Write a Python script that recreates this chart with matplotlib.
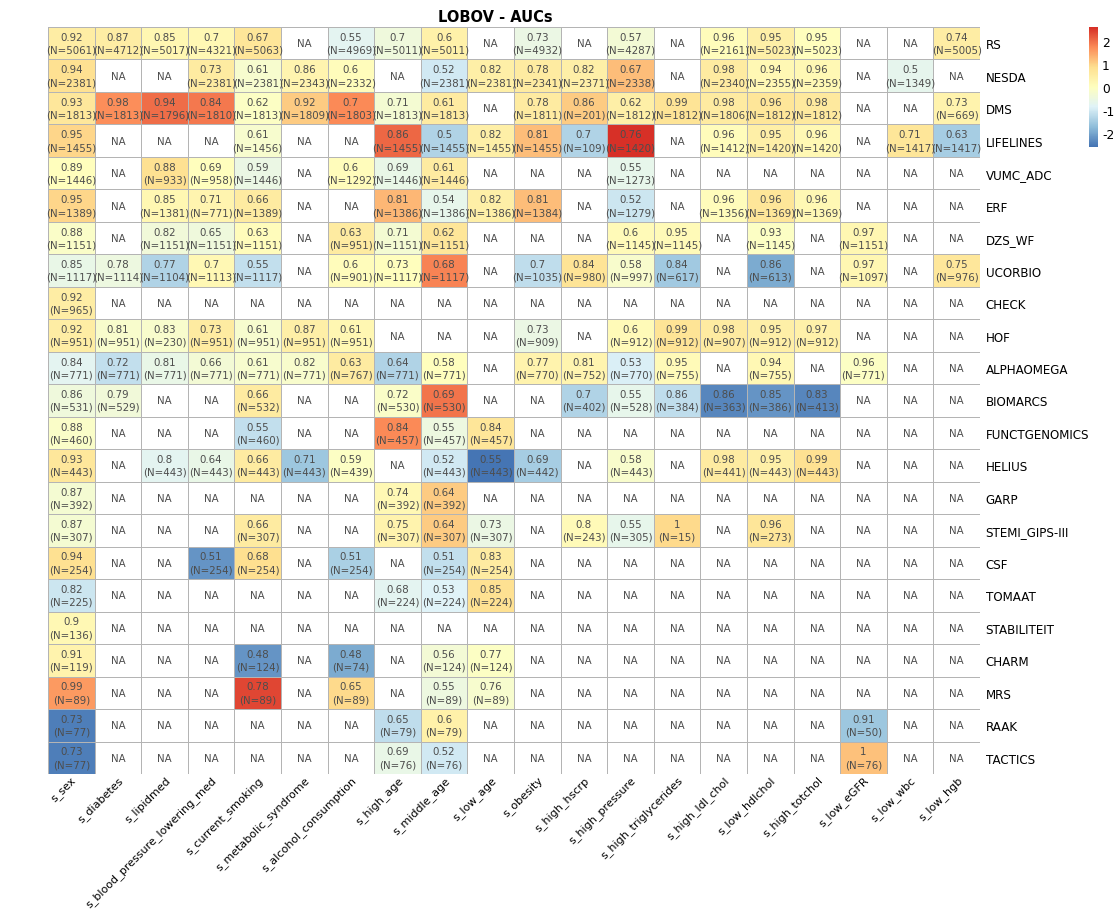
import numpy as np
import matplotlib
matplotlib.use('Agg')
import matplotlib.pyplot as plt
from matplotlib.colors import LinearSegmentedColormap, ListedColormap, Normalize

plt.rcParams['axes.unicode_minus'] = False

N = None

cohorts = ['RS', 'NESDA', 'DMS', 'LIFELINES', 'VUMC_ADC', 'ERF', 'DZS_WF', 'UCORBIO',
           'CHECK', 'HOF', 'ALPHAOMEGA', 'BIOMARCS', 'FUNCTGENOMICS', 'HELIUS', 'GARP',
           'STEMI_GIPS-III', 'CSF', 'TOMAAT', 'STABILITEIT', 'CHARM', 'MRS', 'RAAK', 'TACTICS']

variables = ['s_sex', 's_diabetes', 's_lipidmed', 's_blood_pressure_lowering_med',
             's_current_smoking', 's_metabolic_syndrome', 's_alcohol_consumption',
             's_high_age', 's_middle_age', 's_low_age', 's_obesity', 's_high_hscrp',
             's_high_pressure', 's_high_triglycerides', 's_high_ldl_chol', 's_low_hdlchol',
             's_high_totchol', 's_low_eGFR', 's_low_wbc', 's_low_hgb']

auc = [
    [0.92, 0.87, 0.85, 0.70, 0.67, N, 0.55, 0.70, 0.60, N, 0.73, N, 0.57, N, 0.96, 0.95, 0.95, N, N, 0.74],
    [0.94, N, N, 0.73, 0.61, 0.86, 0.60, N, 0.52, 0.82, 0.78, 0.82, 0.67, N, 0.98, 0.94, 0.96, N, 0.50, N],
    [0.93, 0.98, 0.94, 0.84, 0.62, 0.92, 0.70, 0.71, 0.61, N, 0.78, 0.86, 0.62, 0.99, 0.98, 0.96, 0.98, N, N, 0.73],
    [0.95, N, N, N, 0.61, N, N, 0.86, 0.50, 0.82, 0.81, 0.70, 0.76, N, 0.96, 0.95, 0.96, N, 0.71, 0.63],
    [0.89, N, 0.88, 0.69, 0.59, N, 0.60, 0.69, 0.61, N, N, N, 0.55, N, N, N, N, N, N, N],
    [0.95, N, 0.85, 0.71, 0.66, N, N, 0.81, 0.54, 0.82, 0.81, N, 0.52, N, 0.96, 0.96, 0.96, N, N, N],
    [0.88, N, 0.82, 0.65, 0.63, N, 0.63, 0.71, 0.62, N, N, N, 0.60, 0.95, N, 0.93, N, 0.97, N, N],
    [0.85, 0.78, 0.77, 0.70, 0.55, N, 0.60, 0.73, 0.68, N, 0.70, 0.84, 0.58, 0.84, N, 0.86, N, 0.97, N, 0.75],
    [0.92, N, N, N, N, N, N, N, N, N, N, N, N, N, N, N, N, N, N, N],
    [0.92, 0.81, 0.83, 0.73, 0.61, 0.87, 0.61, N, N, N, 0.73, N, 0.60, 0.99, 0.98, 0.95, 0.97, N, N, N],
    [0.84, 0.72, 0.81, 0.66, 0.61, 0.82, 0.63, 0.64, 0.58, N, 0.77, 0.81, 0.53, 0.95, N, 0.94, N, 0.96, N, N],
    [0.86, 0.79, N, N, 0.66, N, N, 0.72, 0.69, N, N, 0.70, 0.55, 0.86, 0.86, 0.85, 0.83, N, N, N],
    [0.88, N, N, N, 0.55, N, N, 0.84, 0.55, 0.84, N, N, N, N, N, N, N, N, N, N],
    [0.93, N, 0.80, 0.64, 0.66, 0.71, 0.59, N, 0.52, 0.55, 0.69, N, 0.58, N, 0.98, 0.95, 0.99, N, N, N],
    [0.87, N, N, N, N, N, N, 0.74, 0.64, N, N, N, N, N, N, N, N, N, N, N],
    [0.87, N, N, N, 0.66, N, N, 0.75, 0.64, 0.73, N, 0.80, 0.55, 1.00, N, 0.96, N, N, N, N],
    [0.94, N, N, 0.51, 0.68, N, 0.51, N, 0.51, 0.83, N, N, N, N, N, N, N, N, N, N],
    [0.82, N, N, N, N, N, N, 0.68, 0.53, 0.85, N, N, N, N, N, N, N, N, N, N],
    [0.90, N, N, N, N, N, N, N, N, N, N, N, N, N, N, N, N, N, N, N],
    [0.91, N, N, N, 0.48, N, 0.48, N, 0.56, 0.77, N, N, N, N, N, N, N, N, N, N],
    [0.99, N, N, N, 0.78, N, 0.65, N, 0.55, 0.76, N, N, N, N, N, N, N, N, N, N],
    [0.73, N, N, N, N, N, N, 0.65, 0.60, N, N, N, N, N, N, N, N, 0.91, N, N],
    [0.73, N, N, N, N, N, N, 0.69, 0.52, N, N, N, N, N, N, N, N, 1.00, N, N],
]

n_obs = [
    [5061, 4712, 5017, 4321, 5063, N, 4969, 5011, 5011, N, 4932, N, 4287, N, 2161, 5023, 5023, N, N, 5005],
    [2381, N, N, 2381, 2381, 2343, 2332, N, 2381, 2381, 2341, 2371, 2338, N, 2340, 2355, 2359, N, 1349, N],
    [1813, 1813, 1796, 1810, 1813, 1809, 1803, 1813, 1813, N, 1811, 201, 1812, 1812, 1806, 1812, 1812, N, N, 669],
    [1455, N, N, N, 1456, N, N, 1455, 1455, 1455, 1455, 109, 1420, N, 1412, 1420, 1420, N, 1417, 1417],
    [1446, N, 933, 958, 1446, N, 1292, 1446, 1446, N, N, N, 1273, N, N, N, N, N, N, N],
    [1389, N, 1381, 771, 1389, N, N, 1386, 1386, 1386, 1384, N, 1279, N, 1356, 1369, 1369, N, N, N],
    [1151, N, 1151, 1151, 1151, N, 951, 1151, 1151, N, N, N, 1145, 1145, N, 1145, N, 1151, N, N],
    [1117, 1114, 1104, 1113, 1117, N, 901, 1117, 1117, N, 1035, 980, 997, 617, N, 613, N, 1097, N, 976],
    [965, N, N, N, N, N, N, N, N, N, N, N, N, N, N, N, N, N, N, N],
    [951, 951, 230, 951, 951, 951, 951, N, N, N, 909, N, 912, 912, 907, 912, 912, N, N, N],
    [771, 771, 771, 771, 771, 771, 767, 771, 771, N, 770, 752, 770, 755, N, 755, N, 771, N, N],
    [531, 529, N, N, 532, N, N, 530, 530, N, N, 402, 528, 384, 363, 386, 413, N, N, N],
    [460, N, N, N, 460, N, N, 457, 457, 457, N, N, N, N, N, N, N, N, N, N],
    [443, N, 443, 443, 443, 443, 439, N, 443, 443, 442, N, 443, N, 441, 443, 443, N, N, N],
    [392, N, N, N, N, N, N, 392, 392, N, N, N, N, N, N, N, N, N, N, N],
    [307, N, N, N, 307, N, N, 307, 307, 307, N, 243, 305, 15, N, 273, N, N, N, N],
    [254, N, N, 254, 254, N, 254, N, 254, 254, N, N, N, N, N, N, N, N, N, N],
    [225, N, N, N, N, N, N, 224, 224, 224, N, N, N, N, N, N, N, N, N, N],
    [136, N, N, N, N, N, N, N, N, N, N, N, N, N, N, N, N, N, N, N],
    [119, N, N, N, 124, N, 74, N, 124, 124, N, N, N, N, N, N, N, N, N, N],
    [89, N, N, N, 89, N, 89, N, 89, 89, N, N, N, N, N, N, N, N, N, N],
    [77, N, N, N, N, N, N, 79, 79, N, N, N, N, N, N, N, N, 50, N, N],
    [77, N, N, N, N, N, N, 76, 76, N, N, N, N, N, N, N, N, 76, N, N],
]

# column-wise z-score (NA ignored) for the colours
vals = np.array([[np.nan if v is None else v for v in r] for r in auc], dtype=float)
mu = np.nanmean(vals, axis=0)
sd = np.nanstd(vals, axis=0, ddof=1)
z = (vals - mu) / sd
m = np.nanmax(np.abs(z))

pal = ['#4575B4', '#91BFDB', '#E0F3F8', '#FFFFBF', '#FEE090', '#FC8D59', '#D73027']
cmap = ListedColormap(LinearSegmentedColormap.from_list('rdylbu', pal)(np.linspace(0, 1, 100)))
cmap.set_bad('white')
norm = Normalize(-m, m)

nr, nc = vals.shape
fig = plt.figure(figsize=(11.16, 9.12), dpi=100)
ax = fig.add_axes([48/1116, 1-775/912, 932/1116, 747/912])
ax.pcolormesh(np.arange(nc+1), np.arange(nr+1), np.ma.masked_invalid(z), cmap=cmap, norm=norm,
              edgecolors='#b4b4b4', linewidth=0.6)
ax.set_xlim(0, nc)
ax.set_ylim(nr, 0)

for i in range(nr):
    for j in range(nc):
        if auc[i][j] is None:
            txt = 'NA'
        else:
            txt = f'{auc[i][j]:g}\n(N={n_obs[i][j]})'
        ax.text(j+0.5, i+0.5, txt, ha='center', va='center', fontsize=7.4,
                color='#4d4d4d', linespacing=1.35)

ax.yaxis.tick_right()
ax.set_yticks(np.arange(nr)+0.5)
ax.set_yticklabels(cohorts, fontsize=8.6)
ax.set_xticks(np.arange(nc)+0.5)
ax.set_xticklabels(variables, fontsize=8.0, rotation=45, ha='right', rotation_mode='anchor')
ax.tick_params(axis='y', length=0, pad=4)
ax.tick_params(axis='x', length=0, pad=0)
for s in ax.spines.values():
    s.set_visible(False)

fig.text(495/1116, 1-17/912, 'LOBOV - AUCs', fontsize=10.5, fontweight='bold',
         ha='center', va='center')

# legend bar
cax = fig.add_axes([1089/1116, 1-148/912, 9/1116, 120/912])
grad = np.linspace(-m, m, 100).reshape(-1, 1)
cax.imshow(grad, cmap=cmap, norm=norm, aspect='auto', origin='lower', extent=[0, 1, -m, m])
cax.set_xticks([])
cax.yaxis.tick_right()
cax.set_yticks([-2, -1, 0, 1, 2])
cax.tick_params(length=0, labelsize=8.8, pad=3)
for s in cax.spines.values():
    s.set_visible(False)

fig.savefig('out.png', dpi=100)
